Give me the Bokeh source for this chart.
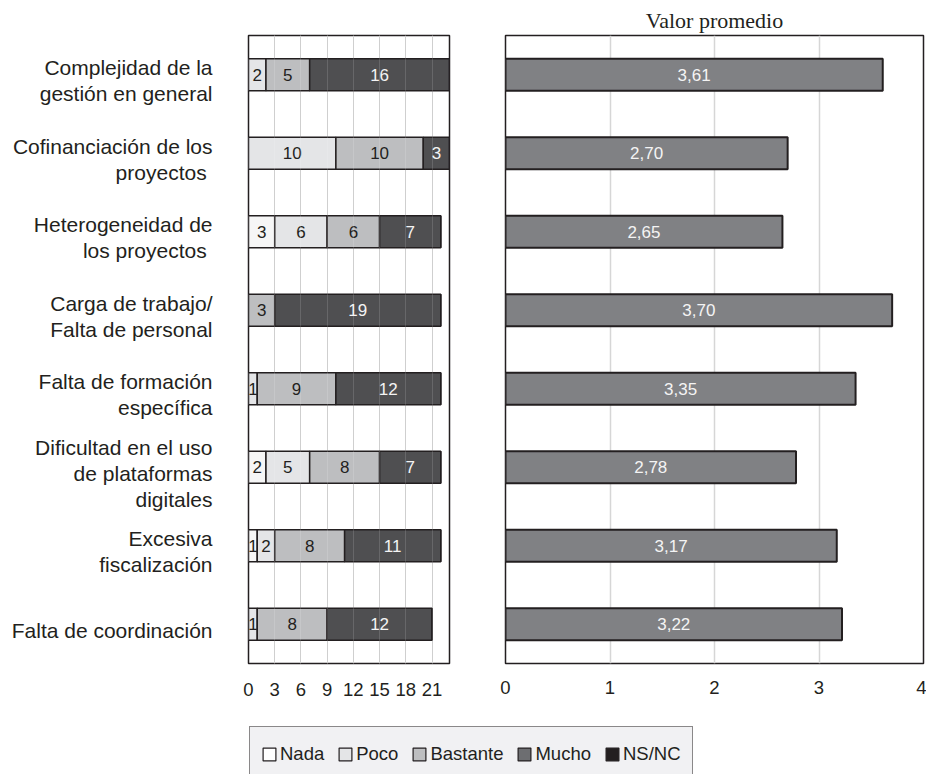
import numpy as np
from bokeh.plotting import figure
from bokeh.models import (ColumnDataSource, FactorRange, Range1d, FixedTicker,
                          Grid, Legend, LegendItem)
from bokeh.layouts import row, column
from bokeh.core.properties import value
from bokeh.embed import file_html
from bokeh.resources import INLINE

# ---------------- data ----------------
categories = [
    "Complejidad de la gestión en general",
    "Cofinanciación de los proyectos",
    "Heterogeneidad de los proyectos",
    "Carga de trabajo/ Falta de personal",
    "Falta de formación específica",
    "Dificultad en el uso de plataformas digitales",
    "Excesiva fiscalización",
    "Falta de coordinación",
]
category_lines = [
    ["Complejidad de la", "gestión en general"],
    ["Cofinanciación de los", "proyectos\u00a0"],
    ["Heterogeneidad de", "los proyectos\u00a0"],
    ["Carga de trabajo/", "Falta de personal"],
    ["Falta de formación", "específica"],
    ["Dificultad en el uso", "de plataformas", "digitales"],
    ["Excesiva", "fiscalización"],
    ["Falta de coordinación"],
]
series_names = ["Nada", "Poco", "Bastante", "Mucho", "NS/NC"]
nada = [0, 0, 3, 0, 0, 2, 1, 0]
poco = [2, 10, 6, 0, 1, 5, 2, 1]
bastante = [5, 10, 6, 3, 9, 8, 8, 8]
mucho = [16, 3, 7, 19, 12, 7, 11, 12]
nsnc = [0, 0, 0, 0, 0, 0, 0, 0]
promedio = [3.61, 2.70, 2.65, 3.70, 3.35, 2.78, 3.17, 3.22]
count_ticks = [0, 3, 6, 9, 12, 15, 18, 21]
mean_ticks = [0, 1, 2, 3, 4]

# ---------------- style ----------------
FONT = "Liberation Sans"
SERIF = "Liberation Serif"
INK = "#231f20"
bar_colors = ["#f6f6f6", "#e4e5e7", "#bdbec0", "#4f4f51", "#231f20"]
legend_colors = ["#ffffff", "#e4e5e7", "#bdbec0", "#6d6e71", "#231f20"]
label_colors = [INK, INK, INK, "#f4f4f4", "#f4f4f4"]

TOP_H = 704
yr = FactorRange(factors=categories[::-1])

# ---------------- label column ----------------
lab = figure(width=230, height=TOP_H, x_range=Range1d(0, 230), y_range=yr,
             x_axis_type=None, y_axis_type=None, toolbar_location=None,
             output_backend="svg", min_border_left=0, min_border_right=0,
             min_border_top=33, min_border_bottom=41)
lab.outline_line_color = None
ly, lt, lo = [], [], []
for cat, lines in zip(categories, category_lines):
    n = len(lines)
    for j, t in enumerate(lines):
        ly.append(cat)
        lt.append(t)
        lo.append(6 + (j - (n - 1) / 2) * 26)
lab.text(x=212, y="y", text="t", y_offset="o",
         source=ColumnDataSource(dict(y=ly, t=lt, o=lo)),
         text_align="right", text_baseline="middle",
         text_font=value(FONT), text_font_size="21px", text_color=INK)

# ---------------- stacked counts ----------------
stk = figure(width=260, height=TOP_H, x_range=Range1d(0, 23), y_range=yr,
             y_axis_type=None, toolbar_location=None, output_backend="svg",
             min_border_left=18, min_border_right=41,
             min_border_top=33, min_border_bottom=41)
src = ColumnDataSource(dict(cat=categories, Nada=nada, Poco=poco,
                            Bastante=bastante, Mucho=mucho,
                            **{"NS/NC": nsnc}))
stk.hbar_stack(series_names, y="cat", height=0.41, source=src,
               fill_color=bar_colors, line_color=INK, line_width=1.5)
vals = np.array([nada, poco, bastante, mucho, nsnc], dtype=float)
ends = np.cumsum(vals, axis=0)
starts = ends - vals
sx, sy, st, sc = [], [], [], []
for s in range(vals.shape[0]):
    for r in range(vals.shape[1]):
        v = vals[s, r]
        if v > 0:
            sx.append(starts[s, r] + v / 2)
            sy.append(categories[r])
            st.append(str(int(v)))
            sc.append(label_colors[s])
stk.text(x="x", y="y", text="t", text_color="c",
         source=ColumnDataSource(dict(x=sx, y=sy, t=st, c=sc)),
         text_align="center", text_baseline="middle",
         text_font=value(FONT), text_font_size="17px")
stk.xaxis.ticker = FixedTicker(ticks=count_ticks)
stk.xgrid.ticker = FixedTicker(ticks=count_ticks)
stk.xgrid.grid_line_color = "#c8c8c8"
stk.ygrid.visible = False
stk.add_layout(Grid(dimension=0, ticker=FixedTicker(ticks=count_ticks),
                    grid_line_color="white", grid_line_alpha=0.14,
                    level="overlay"), "center")
stk.outline_line_color = INK
stk.outline_line_width = 1.5

# ---------------- mean values ----------------
avg = figure(width=436, height=TOP_H, x_range=Range1d(0, 4), y_range=yr,
             y_axis_type=None, toolbar_location=None, output_backend="svg",
             min_border_left=15, min_border_right=3,
             min_border_top=35, min_border_bottom=39, title="Valor promedio")
msrc = ColumnDataSource(dict(cat=categories, prom=promedio,
                             mid=[v / 2 for v in promedio],
                             lab=[f"{v:.2f}".replace(".", ",") for v in promedio]))
avg.hbar(y="cat", left=0, right="prom", height=0.41, source=msrc,
         fill_color="#808184", line_color=INK, line_width=2)
avg.text(x="mid", y="cat", text="lab", source=msrc,
         text_align="center", text_baseline="middle",
         text_font=value(FONT), text_font_size="17px", text_color="#f4f4f4")
avg.xaxis.ticker = FixedTicker(ticks=mean_ticks)
avg.xgrid.ticker = FixedTicker(ticks=mean_ticks)
avg.xgrid.grid_line_color = "#d6d6d6"
avg.xgrid.grid_line_width = 1.5
avg.ygrid.visible = False
avg.outline_line_color = INK
avg.outline_line_width = 1.5
avg.title.align = "center"
avg.title.text_font = SERIF
avg.title.text_font_size = "22px"
avg.title.text_font_style = "normal"
avg.title.text_color = INK
avg.title.standoff = 5

for p in (stk, avg):
    ax = p.xaxis[0]
    ax.axis_line_color = None
    ax.major_tick_line_color = None
    ax.minor_tick_line_color = None
    ax.major_tick_out = 0
    ax.major_tick_in = 0
    ax.major_label_text_font = FONT
    ax.major_label_text_font_size = "18.5px"
    ax.major_label_text_color = INK
stk.xaxis[0].major_label_standoff = 19
avg.xaxis[0].major_label_standoff = 17

# ---------------- legend strip ----------------
leg = figure(width=926, height=774 - TOP_H, x_range=Range1d(0, 1),
             y_range=Range1d(0, 1), x_axis_type=None, y_axis_type=None,
             toolbar_location=None, output_backend="svg", min_border=0)
leg.outline_line_color = None
items = []
for name, col in zip(series_names, legend_colors):
    r = leg.rect(x="x", y="y", width=1, height=1,
                 source=ColumnDataSource(dict(x=[np.nan], y=[np.nan])),
                 fill_color=col, line_color=INK, line_width=1.2)
    items.append(LegendItem(label=name, renderers=[r]))
legend = Legend(items=items, orientation="horizontal", location=(249, -8),
                label_text_font=FONT, label_text_font_size="18.5px",
                label_text_color=INK, label_standoff=3, spacing=13,
                glyph_width=16, glyph_height=16, label_height=32,
                padding=11, margin=0,
                border_line_color=INK, border_line_width=1.2,
                background_fill_color="#f1f1f3", background_fill_alpha=1)
leg.add_layout(legend, "center")

layout = column(row(lab, stk, avg, spacing=0), leg, spacing=0)
open("out.html", "w").write(file_html(layout, INLINE))
